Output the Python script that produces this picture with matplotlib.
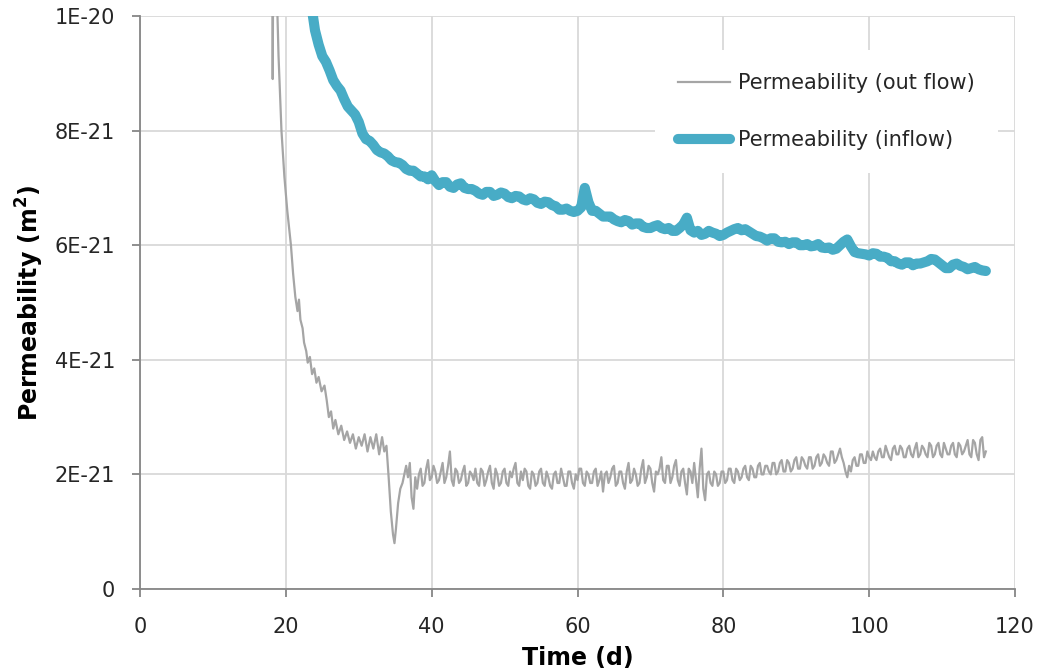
import numpy as np
import matplotlib
matplotlib.use("Agg")
import matplotlib.pyplot as plt
from matplotlib.ticker import FuncFormatter

# ---- data (permeability in 1E-21 m2) ----
# out flow: steep early decline, hand-read points
out_early_t = [18.15, 18.2, 18.3, 18.65, 18.75, 19.0, 19.4, 19.8, 20.2, 20.7,
               21.0, 21.3, 21.6, 21.8, 22.0, 22.3, 22.5, 22.8, 23.0, 23.3,
               23.6, 23.9, 24.2, 24.5, 24.9, 25.3, 25.6, 25.9, 26.2, 26.5,
               26.8, 27.2, 27.6, 28.0, 28.4, 28.8, 29.2, 29.6, 30.0, 30.4,
               30.8, 31.2, 31.6, 32.0, 32.4, 32.8, 33.2, 33.5, 33.8, 34.1,
               34.4, 34.7, 34.9, 35.1, 35.4, 35.7]
out_early_k = [12.0, 8.9, 12.0, 12.0, 10.5, 9.3, 8.0, 7.2, 6.6, 6.0,
               5.5, 5.1, 4.85, 5.05, 4.7, 4.55, 4.3, 4.15, 3.95, 4.05,
               3.75, 3.85, 3.6, 3.7, 3.45, 3.55, 3.3, 3.0, 3.1, 2.8,
               2.95, 2.7, 2.85, 2.6, 2.75, 2.55, 2.7, 2.45, 2.65, 2.5,
               2.7, 2.4, 2.65, 2.45, 2.7, 2.35, 2.65, 2.4, 2.5, 1.95,
               1.35, 0.95, 0.8, 1.05, 1.5, 1.75]

# out flow: noisy plateau, readings on whole and half days (36 .. 116)
out_a_t = np.arange(36.0, 116.01, 0.5)
out_a_k = [
    1.85, 2.15, 2.2, 1.40, 1.75, 2.1, 1.85, 2.25, 1.95, 2.05,
    1.9, 2.2, 1.95, 2.4, 1.8, 2.05, 1.9, 2.15, 1.85, 2.0,
    2.1, 1.8, 2.05, 1.9, 2.15, 1.75, 2.0, 1.85, 2.1, 1.8,
    1.95, 2.2, 1.8, 1.9, 2.05, 1.75, 2.0, 1.85, 2.1, 1.8,
    1.95, 1.75, 2.05, 1.85, 1.95, 1.8, 2.05, 1.75, 1.9, 2.1,
    1.8, 2.0, 1.85, 2.1, 1.9, 1.7, 2.05, 1.95, 2.15, 1.85,
    2.05, 1.75, 2.2, 1.9, 2.0, 1.85, 2.25, 1.95, 2.1, 1.7,
    2.0, 2.3, 1.85, 2.15, 1.95, 2.25, 1.8, 2.1, 1.65, 2.05,
    2.2, 1.6, 2.45, 1.55, 2.05, 1.8, 2.0, 1.85, 2.05, 1.9,
    2.1, 1.85, 2.05, 1.95, 2.15, 1.9, 2.1, 1.95, 2.2, 2.0,
    2.15, 2.0, 2.2, 2.05, 2.25, 2.05, 2.2, 2.1, 2.3, 2.1,
    2.25, 2.1, 2.3, 2.15, 2.35, 2.2, 2.3, 2.15, 2.4, 2.25,
    2.45, 2.2, 1.95, 2.05, 2.3, 2.15, 2.35, 2.2, 2.3, 2.4,
    2.25, 2.45, 2.3, 2.4, 2.25, 2.5, 2.35, 2.45, 2.3, 2.5,
    2.3, 2.55, 2.35, 2.45, 2.3, 2.5, 2.35, 2.55, 2.3, 2.45,
    2.35, 2.55, 2.3, 2.5, 2.4, 2.6, 2.3, 2.55, 2.25, 2.65,
    2.4]
# out flow: readings in between (36.25, 36.75, .. 115.75)
out_b_t = np.arange(36.25, 115.8, 0.5)
out_b_k = [
    2.0, 1.95, 1.6, 1.95, 2.0, 1.8, 2.1, 1.9, 2.15, 1.85,
    2.05, 1.85, 2.15, 1.9, 2.1, 1.85, 2.05, 1.8, 2.05, 1.9,
    1.85, 2.1, 1.8, 2.05, 1.85, 2.1, 1.8, 2.05, 1.85, 2.05,
    2.1, 1.85, 2.05, 2.1, 1.8, 2.05, 1.8, 2.05, 1.85, 2.05,
    1.8, 2.0, 1.85, 2.1, 1.8, 2.05, 1.85, 2.0, 2.1, 1.85,
    2.05, 1.85, 2.05, 1.8, 2.05, 2.0, 1.85, 2.1, 1.8, 2.05,
    1.85, 2.05, 1.85, 2.1, 1.8, 2.1, 1.85, 2.15, 1.85, 2.05,
    2.1, 1.9, 2.15, 1.85, 2.15, 1.9, 2.05, 1.85, 2.1, 1.85,
    1.9, 2.1, 1.75, 2.0, 1.85, 2.05, 1.8, 2.05, 1.85, 2.1,
    1.9, 2.1, 1.9, 2.1, 1.95, 2.15, 1.95, 2.15, 2.0, 2.15,
    2.05, 2.2, 2.0, 2.2, 2.05, 2.25, 2.05, 2.25, 2.1, 2.3,
    2.15, 2.3, 2.1, 2.3, 2.15, 2.35, 2.2, 2.4, 2.2, 2.35,
    2.3, 2.05, 2.15, 2.25, 2.15, 2.35, 2.2, 2.4, 2.25, 2.3,
    2.4, 2.3, 2.5, 2.3, 2.45, 2.35, 2.5, 2.3, 2.45, 2.35,
    2.45, 2.3, 2.5, 2.35, 2.55, 2.3, 2.5, 2.35, 2.55, 2.35,
    2.5, 2.35, 2.55, 2.35, 2.5, 2.35, 2.6, 2.35, 2.6, 2.3]

# inflow: first point, then readings on whole days (24 .. 116)
in_a_t = [23.6] + list(np.arange(24, 117, 1))
in_a_k = [10.1,
          9.75, 9.3, 9.05, 8.78, 8.55, 8.35, 8.15, 7.85, 7.75, 7.62,
          7.55, 7.45, 7.4, 7.3, 7.25, 7.2, 7.22, 7.05, 7.1, 7.0,
          7.08, 6.98, 6.95, 6.88, 6.93, 6.88, 6.9, 6.82, 6.85, 6.78,
          6.8, 6.72, 6.75, 6.68, 6.62, 6.6, 6.6, 7.0, 6.6, 6.55,
          6.5, 6.45, 6.4, 6.42, 6.38, 6.32, 6.3, 6.35, 6.28, 6.25,
          6.3, 6.48, 6.22, 6.18, 6.25, 6.2, 6.18, 6.25, 6.3, 6.28,
          6.2, 6.15, 6.08, 6.12, 6.05, 6.02, 6.05, 6.0, 5.98, 6.02,
          5.95, 5.92, 6.0, 6.1, 5.88, 5.85, 5.82, 5.85, 5.8, 5.72,
          5.68, 5.7, 5.65, 5.68, 5.72, 5.75, 5.65, 5.6, 5.68, 5.62,
          5.6, 5.58, 5.55]
# inflow: half-day readings (24.5 .. 115.5)
in_b_t = np.arange(24.5, 115.6, 1)
in_b_k = [9.5, 9.2, 8.88, 8.7, 8.42, 8.28, 7.95, 7.82, 7.66, 7.6,
          7.48, 7.44, 7.33, 7.3, 7.2, 7.15, 7.12, 7.1, 7.02, 7.06,
          7.0, 6.98, 6.9, 6.93, 6.86, 6.92, 6.84, 6.86, 6.8, 6.82,
          6.74, 6.76, 6.7, 6.62, 6.64, 6.58, 6.66, 6.75, 6.6, 6.5,
          6.5, 6.42, 6.44, 6.36, 6.38, 6.3, 6.33, 6.3, 6.3, 6.25,
          6.36, 6.26, 6.25, 6.2, 6.22, 6.16, 6.22, 6.28, 6.26, 6.24,
          6.16, 6.12, 6.12, 6.06, 6.06, 6.05, 6.0, 6.02, 5.99, 5.96,
          5.96, 5.94, 6.06, 5.98, 5.86, 5.84, 5.86, 5.8, 5.78, 5.72,
          5.66, 5.7, 5.68, 5.7, 5.76, 5.7, 5.6, 5.66, 5.64, 5.58,
          5.62, 5.56]

y_ticks = [0, 2, 4, 6, 8, 10]
y_tick_labels = ["0", "2E-21", "4E-21", "6E-21", "8E-21", "1E-20"]
x_ticks = [0, 20, 40, 60, 80, 100, 120]


def merge(t1, k1, t2, k2):
    t = np.concatenate([np.asarray(t1, float), np.asarray(t2, float)])
    k = np.concatenate([np.asarray(k1, float), np.asarray(k2, float)])
    order = np.argsort(t, kind="stable")
    return t[order], k[order]


late_t, late_k = merge(out_a_t, out_a_k, out_b_t, out_b_k)
out_t = np.concatenate([out_early_t, late_t])
out_k = np.concatenate([out_early_k, late_k])
in_t, in_k = merge(in_a_t, in_a_k, in_b_t, in_b_k)

plt.rcParams['font.family'] = ['DejaVu Sans']

fig = plt.figure(figsize=(10.37, 6.70), dpi=100)
ax = fig.add_axes([0.135, 0.1209, 0.8438, 0.8552])

ax.plot(out_t, out_k, color="#a5a5a5", lw=1.6, label="Permeability (out flow)", zorder=3)
ax.plot(in_t, in_k, color="#48acc6", lw=7.3, solid_capstyle="round",
        solid_joinstyle="round", label="Permeability (inflow)", zorder=2)

ax.set_xlim(0, 120)
ax.set_ylim(0, 10)
ax.set_xticks(x_ticks)
ax.set_yticks(y_ticks)
ax.yaxis.set_major_formatter(FuncFormatter(lambda v, p: y_tick_labels[y_ticks.index(int(round(v)))]))

ax.grid(True, color="#d9d9d9", lw=1.3)
ax.set_axisbelow(True)
for s in ["top", "right"]:
    ax.spines[s].set_visible(False)
for s in ["left", "bottom"]:
    ax.spines[s].set_color("#868686")
    ax.spines[s].set_linewidth(1.3)
    ax.spines[s].set_zorder(4)
ax.tick_params(axis="both", colors="#868686", length=6, width=1.3, labelsize=15,
               labelcolor="#262626")
ax.tick_params(axis="x", pad=14)
ax.tick_params(axis="y", pad=12)

ax.set_xlabel("Time (d)", fontsize=17, fontweight="bold", labelpad=7)
ax.set_ylabel("Permeability (m$^\\mathbf{2}$)", fontsize=17, fontweight="bold", labelpad=6)

leg = ax.legend(loc="upper left", bbox_to_anchor=(0.5886, 0.9407), borderaxespad=0,
                fontsize=15, frameon=True, facecolor="white", edgecolor="none",
                framealpha=1, fancybox=False, handlelength=2.5, handletextpad=0.38,
                labelspacing=1.8, borderpad=1.1)
leg.get_frame().set_linewidth(0)
for t in leg.get_texts():
    t.set_color("#262626")

fig.savefig("out.png", dpi=100)
